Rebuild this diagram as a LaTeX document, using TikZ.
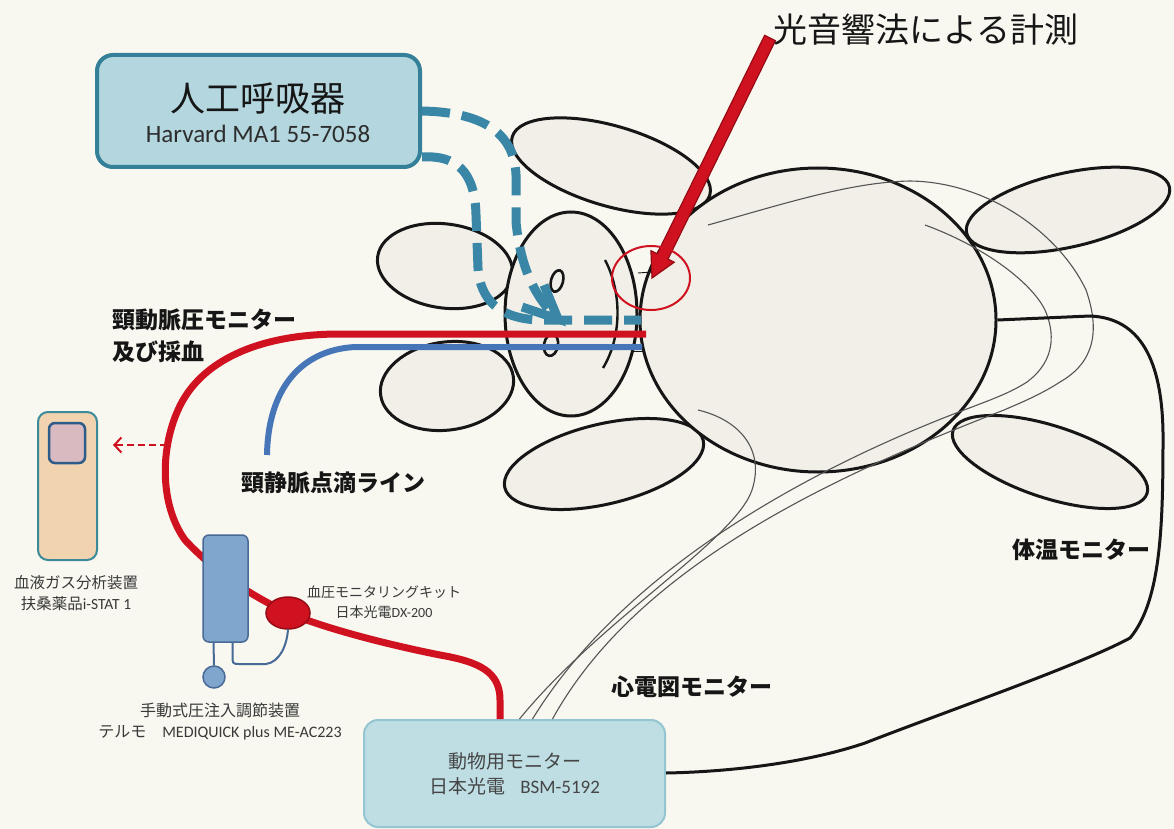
\documentclass[tikz,border=0pt]{standalone}
\usepackage{fontspec}
\setmainfont{Noto Sans CJK JP}
\newfontfamily\lat{Carlito}
\usetikzlibrary{arrows.meta,calc,shapes.geometric}

\definecolor{paper}{RGB}{248,247,240}
\definecolor{skin}{RGB}{241,239,231}
\definecolor{ink}{RGB}{22,22,22}
\definecolor{wire}{RGB}{85,85,85}
\definecolor{tube}{RGB}{58,134,166}
\definecolor{ventfill}{RGB}{180,215,223}
\definecolor{ventedge}{RGB}{52,128,152}
\definecolor{monfill}{RGB}{190,222,228}
\definecolor{monedge}{RGB}{148,198,209}
\definecolor{artery}{RGB}{208,18,32}
\definecolor{arteryedge}{RGB}{150,10,20}
\definecolor{vein}{RGB}{70,118,184}
\definecolor{gasfill}{RGB}{242,211,176}
\definecolor{gasedge}{RGB}{58,138,154}
\definecolor{gasscreen}{RGB}{216,186,192}
\definecolor{gasscreenedge}{RGB}{46,92,136}
\definecolor{pumpfill}{RGB}{128,166,206}
\definecolor{pumpedge}{RGB}{72,106,150}

\begin{document}
\begin{tikzpicture}[x=1pt,y=-1pt,
  limb/.style={ellipse, draw=ink, line width=3pt, fill=skin, inner sep=0pt},
  leadwire/.style={draw=wire, line width=1.1pt},
  tubeline/.style={draw=tube, line width=9pt, dash pattern=on 28pt off 12pt},
  tag/.style={font=\bfseries\fontsize{23}{32}\selectfont, text=ink, inner sep=0pt},
  note/.style={text=ink!85, inner sep=0pt, align=center},
  pumpline/.style={draw=pumpedge, line width=2pt},
]
% paper
\fill[paper] (0,0) rectangle (1174,829);
\useasboundingbox (0,0) rectangle (1174,829);

% ---- animal outline ----
\node[limb, minimum width=136pt, minimum height=84pt, rotate=-8] (earU) at (445,266) {};
\node[limb, minimum width=134pt, minimum height=88pt, rotate=8] (earL) at (447,386) {};
\node[limb, minimum width=206pt, minimum height=80pt, rotate=-16.4] (legTL) at (611,166) {};
\node[limb, minimum width=204pt, minimum height=80pt, rotate=13.4] (legBL) at (604,464) {};
\node[limb, minimum width=208pt, minimum height=74pt, rotate=12.8] (legTR) at (1068,210) {};
\node[limb, minimum width=204pt, minimum height=72pt, rotate=-18] (legBR) at (1050,462) {};
\node[limb, minimum width=132pt, minimum height=204pt] (snout) at (571,314) {};
\node[limb, minimum width=356pt, minimum height=304pt] (body) at (818,320) {};

% nostrils and throat details
\draw[ink, line width=2.6pt, rotate around={-15:(557,281)}] (557,281) ellipse [x radius=6, y radius=11];
\draw[ink, line width=2.6pt, rotate around={-10:(551,345)}] (551,345) ellipse [x radius=7, y radius=11];
\draw[ink, line width=2.4pt] (605,260) .. controls (621,290) and (623,335) .. (603,368);
\draw[ink, line width=0.9pt] (638,273) -- (652,272);
\draw[ink, line width=0.9pt] (633,351) -- (644,351);

% ---- monitor ----
\node[draw=monedge, fill=monfill, line width=2pt, rounded corners=14pt,
      minimum width=301pt, minimum height=107pt, inner sep=0pt, align=center,
      text=ink!80, font=\fontsize{19}{25}\selectfont] (monitor) at (514.5,773.5)
  {動物用モニター\\日本光電\hspace{0.8em}{\lat BSM-5192}};

% ECG leads
\draw[leadwire] (708,225) .. controls (780,205) and (850,182) .. (910,181)
  .. controls (990,182) and (1060,235) .. (1086,290)
  .. controls (1100,330) and (1095,362) .. (1060,382)
  .. controls (1040,395) and (1020,403) .. (1004,410)
  .. controls (850,470) and (640,560) .. ($(monitor.north)+(38,0)$);
\draw[leadwire] (925,225) .. controls (980,245) and (1030,280) .. (1045,310)
  .. controls (1058,340) and (1050,365) .. (1027,382)
  .. controls (1010,393) and (990,400) .. (972,407)
  .. controls (830,460) and (630,560) .. ($(monitor.north)+(18,0)$);
\draw[leadwire] (698,410) .. controls (740,420) and (765,450) .. (752,490)
  .. controls (735,540) and (600,620) .. ($(monitor.north)+(5,0)$);

% temperature probe
\draw[ink, line width=3pt] (body.east) -- (1090,316)
  .. controls (1140,318) and (1162,360) .. (1163,433)
  .. controls (1163,520) and (1162,600) .. (1130,638)
  .. controls (1080,665) and (950,710) .. (865,743)
  .. controls (800,765) and (720,772) .. (monitor.east |- 0,773);

% ---- ventilator ----
\node[draw=ventedge, fill=ventfill, line width=4pt, rounded corners=16pt,
      minimum width=323pt, minimum height=112pt, inner sep=0pt] (vent) at (258.5,111) {};
\node[inner sep=0pt, text=ink, font=\fontsize{35}{40}\selectfont] (ventName) at (258,99) {人工呼吸器};
\node[inner sep=0pt, text=ink!90, font=\lat\fontsize{25}{28}\selectfont] (ventModel) at (258,134) {Harvard MA1 55-7058};

\coordinate (tubeTip) at (558,319);
\coordinate (trachea) at (641,320);
\draw[tubeline] (vent.east) .. controls (470,112) and (514,125) .. (516,175) -- (516,222)
  .. controls (520,262) and (532,295) .. (tubeTip);
\draw[tube, line width=9pt, line join=miter] ($(tubeTip)+(-36,-12)$) -- (tubeTip) -- ($(tubeTip)+(-14,-34)$);
\draw[tubeline] ($(vent.south east)+(0,-12)$) .. controls (455,155) and (475,170) .. (476,215)
  -- (478,268) .. controls (480,300) and (500,319) .. (540,320) -- (trachea);

% ---- catheters ----
\coordinate (artIn) at (646,334);
\coordinate (veinIn) at (642,347);
\node[ellipse, minimum width=44pt, minimum height=32pt, inner sep=0pt] (bpkit) at (288,613) {};
\draw[artery, line width=7pt] (artIn) -- (340,334)
  .. controls (260,334) and (200,360) .. (178,410)
  .. controls (160,450) and (160,505) .. (185,540)
  .. controls (215,572) and (250,595) .. (bpkit.center)
  .. controls (330,630) and (390,645) .. (440,655)
  .. controls (480,662) and (500,672) .. (500,700) -- (monitor.north -| 500,0);
\node[ellipse, draw=arteryedge, fill=artery, line width=1.5pt, minimum width=44pt,
      minimum height=32pt, inner sep=0pt] at (bpkit) {};
\draw[vein, line width=6pt] (veinIn) -- (355,347) .. controls (300,350) and (268,390) .. (267,455);

% ---- pressure infusion device ----
\node[draw=pumpedge, fill=pumpfill, line width=1.5pt, rounded corners=6pt,
      minimum width=45pt, minimum height=107pt, inner sep=0pt] (pump) at (225.5,588.5) {};
\node[circle, draw=pumpedge, fill=pumpfill, line width=1.5pt, minimum size=22pt,
      inner sep=0pt] (bulb) at (214,677) {};
\draw[pumpline] ($(pump.south)+(-12,0)$) -- (bulb.north);
\draw[pumpline] ($(pump.south)+(7,0)$) -- ++(0,17) .. controls +(0,5) and (236,664) .. (244,664)
  -- (266,664) .. controls (280,662) and (287,645) .. (bpkit.south);

% ---- blood gas analyser ----
\node[draw=gasedge, fill=gasfill, line width=2pt, rounded corners=10pt,
      minimum width=59pt, minimum height=148pt, inner sep=0pt] (gas) at (67.5,486) {};
\node[draw=gasscreenedge, fill=gasscreen, line width=2.5pt, rounded corners=6pt,
      minimum width=36pt, minimum height=40pt, inner sep=0pt] (screen) at (67,443) {};
\coordinate (sample) at (167,445);
\draw[artery, line width=2pt, dash pattern=on 7pt off 4pt, shorten >=15pt,
      -{Straight Barb[length=7pt,width=15pt]}] (sample) -- (gas.east |- sample);

% ---- photoacoustic probe ----
\coordinate (probeTail) at (770,38);
\coordinate (probeTip) at (652,278);
\coordinate (neck) at ($(probeTip)!24pt!(probeTail)$);
\filldraw[fill=artery, draw=arteryedge, line width=1.2pt]
  ($(probeTail)!6pt!90:(probeTip)$) -- ($(neck)!6pt!90:(probeTip)$)
  -- ($(neck)!13pt!90:(probeTip)$) -- (probeTip)
  -- ($(neck)!13pt!-90:(probeTip)$) -- ($(neck)!6pt!-90:(probeTip)$)
  -- ($(probeTail)!6pt!-90:(probeTip)$) -- cycle;
\draw[artery, line width=2pt] (651,278) ellipse [x radius=39, y radius=32];

% ---- labels ----
\node[inner sep=0pt, text=ink, font=\fontsize{34}{38}\selectfont] (title) at (926,30) {光音響法による計測};
\node[tag, anchor=west, align=left] (artLabel) at (112,336) {頸動脈圧モニター\\及び採血};
\node[tag] (veinLabel) at (333,483) {頸静脈点滴ライン};
\node[tag] (tempLabel) at (1081,550) {体温モニター};
\node[tag] (ecgLabel) at (692,687) {心電図モニター};
\node[note, font=\fontsize{15.5}{21}\selectfont] (gasLabel) at (76,593)
  {血液ガス分析装置\\扶桑薬品{\lat i-STAT 1}};
\node[note, font=\fontsize{14}{20}\selectfont] (kitLabel) at (384,602)
  {血圧モニタリングキット\\日本光電{\lat DX-200}};
\node[note, font=\fontsize{16}{21}\selectfont] (pumpLabel) at (220,722)
  {手動式圧注入調節装置\\テルモ\hspace{1em}{\lat MEDIQUICK plus ME-AC223}};
\end{tikzpicture}
\end{document}
